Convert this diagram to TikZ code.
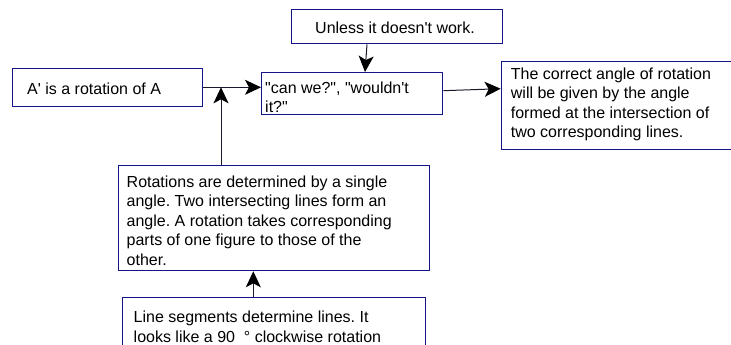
\documentclass[tikz,border=0pt]{standalone}
\usepackage{fontspec}
\setmainfont{Liberation Sans}[Ligatures=TeXOff]
\usetikzlibrary{arrows.meta}
\definecolor{boxblue}{RGB}{20,20,135}
\definecolor{linec}{RGB}{25,25,45}
\tikzset{
  box/.style={draw=boxblue, line width=1.3pt, fill=white, inner sep=0pt, anchor=north west},
  txt/.style={inner sep=0pt, anchor=base west, align=left, font=\frenchspacing\fontsize{16pt}{19.6pt}\selectfont, text=black},
  arr/.style={draw=linec, line width=1pt, -{Stealth[length=16pt, width=15pt, inset=4pt, fill=black, color=black]}}
}
\begin{document}
\begin{tikzpicture}[x=1pt, y=-1pt]
\useasboundingbox (0,0) rectangle (731,345);
\clip (0,0) rectangle (731,345);
% boxes
\node[box, minimum width=190pt, minimum height=38pt] (A) at (12,68) {};
\node[box, minimum width=211pt, minimum height=34pt] (U) at (291,9) {};
\node[box, minimum width=181pt, minimum height=42pt] (C) at (261,72) {};
\node[box, minimum width=260pt, minimum height=88pt] (R) at (500.7,61) {};
\node[box, minimum width=311pt, minimum height=105pt] (P) at (118,165) {};
\node[box, minimum width=303pt, minimum height=80pt] (L) at (122,297) {};
% texts (anchor at baseline of last line)
\node[txt] (tA) at (27,94) {A' is a rotation of A};
\node[txt] (tU) at (315,34) {Unless it doesn't work.};
\node[txt] (tC) at (265,112.6) {"can we?", "wouldn't\\it?"};
\node[txt] (tR) at (510.7,137.8) {The correct angle of rotation\\will be given by the angle\\formed at the intersection of\\two corresponding lines.};
\node[txt] (tP) at (126.5,265.4) {Rotations are determined by a single\\angle. Two intersecting lines form an\\angle. A rotation takes corresponding\\parts of one figure to those of the\\other.};
\node[txt] (tL) at (133.5,342.3) {Line segments determine lines. It\\looks like a 90\ \ ° clockwise rotation};
% helper coordinates
\coordinate (j) at (221,87.3);
\coordinate (u1) at (367,0);
\coordinate (u2) at (365,0);
\coordinate (c1) at (0,90.7);
\coordinate (r1) at (0,88.7);
\coordinate (l1) at (253.3,0);
% connectors
\draw[arr] (A.east |- j) -- (C.west |- j);
\draw[arr] (P.north -| j) -- (j);
\draw[arr] (U.south -| u1) -- (C.north -| u2);
\draw[arr] (C.east |- c1) -- (R.west |- r1);
\draw[arr] (L.north -| l1) -- (P.south -| l1);
\end{tikzpicture}
\end{document}
